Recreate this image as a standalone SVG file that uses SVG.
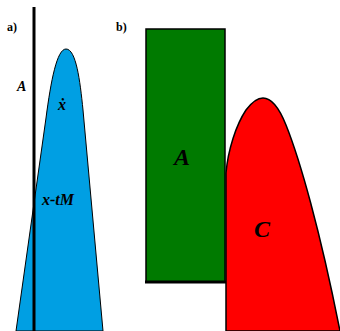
<svg xmlns="http://www.w3.org/2000/svg" width="340" height="331" viewBox="0 0 340 331">
<style>
.lbl{font-family:"Liberation Serif",serif;font-weight:bold;fill:#000}
.it{font-family:"Liberation Serif",serif;font-weight:bold;font-style:italic;fill:#000}
</style>
<rect width="340" height="331" fill="#fff"/>
<g id="panel-a">
<text class="lbl" x="7" y="31" font-size="12">a)</text>
<path id="blue" d="M16,331 L46,118 C51,80 57,49 66,49 C76,49 80,80 83,110 L103,331 Z" fill="#009fe3" stroke="#000" stroke-width="1"/>
<line x1="34" y1="7" x2="34" y2="331" stroke="#000" stroke-width="3"/>
<text class="it" x="17" y="91" font-size="14">A</text>
<text class="it" x="58" y="110" font-size="16">ẋ</text>
<text class="it" x="42" y="205" font-size="16">x-tM</text>
</g>
<g id="panel-b">
<text class="lbl" x="116" y="31" font-size="12">b)</text>
<g id="nodeA">
<rect x="146" y="29" width="79" height="253" fill="#007a00" stroke="#000" stroke-width="1.5"/>
<line x1="145" y1="282" x2="226" y2="282" stroke="#000" stroke-width="3"/>
<text class="it" x="174" y="165" font-size="24">A</text>
</g>
<g id="nodeC">
<path d="M226,331 L226,173 C228,150 236,125 246,110 C252,102 258,98 263,98 C272,98 280,110 286,125 C300,160 320,230 340,331 Z" fill="#ff0000" stroke="#000" stroke-width="1.5"/>
<text class="it" x="254" y="237" font-size="24">C</text>
</g>
</g>
</svg>
